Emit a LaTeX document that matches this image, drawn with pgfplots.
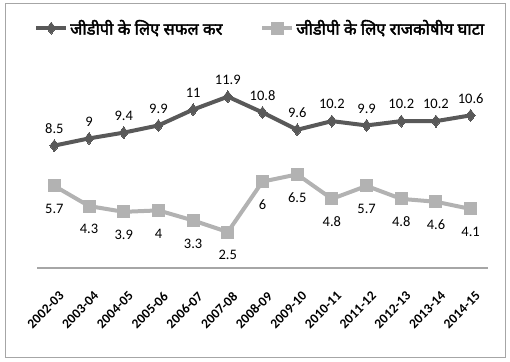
\documentclass[border=0pt]{standalone}
\usepackage{fontspec}
\setmainfont{Carlito}
\newfontfamily\hindi[Script=Devanagari, FakeBold=2.5]{Noto Sans}
\usepackage{pgfplots}
\pgfplotsset{compat=1.18}
\definecolor{darkser}{HTML}{595959}
\definecolor{lightser}{HTML}{B2B2B2}
\definecolor{axgray}{HTML}{A6A6A6}
\pgfplotsset{mylegimg/.style={legend image code/.code={\draw[##1, mark repeat=2, mark phase=2] plot coordinates {(0pt,0pt) (15pt,0pt) (30pt,0pt)};}}}
\begin{document}
\begin{tikzpicture}
\path (0,0) rectangle (510pt,361pt);
\draw[axgray, line width=1pt] (5pt,4pt) rectangle (505pt,357pt);
\begin{axis}[
  at={(37pt,93pt)}, anchor=south west,
  scale only axis, width=451pt, height=201.6pt,
  xmin=-0.5, xmax=12.5, ymin=0, ymax=14,
  axis x line=bottom, axis y line=none,
  axis line style={draw=axgray, line width=2pt, -},
  xtick={0,...,12},
  xticklabels={2002-03,2003-04,2004-05,2005-06,2006-07,2007-08,2008-09,2009-10,2010-11,2011-12,2012-13,2013-14,2014-15},
  xtick style={draw=none},
  xticklabel style={xshift=4pt, yshift=-19pt, rotate=45, anchor=north east, inner sep=1pt, font=\bfseries\fontsize{13.5}{13.5}\selectfont},
  clip=false,
  point meta=explicit symbolic,
  mylegimg,
  legend columns=2,
  legend style={draw=none, fill=none, at={(axis description cs:0.495,1.19)}, anchor=center,
    font=\hindi\fontsize{16.5}{16.5}\selectfont,
    /tikz/every even column/.append style={column sep=36pt}},
  legend cell align=left,
]
\addplot[darkser, line width=4pt, mark=diamond*, mark size=6pt, mark options={solid, line width=0pt, fill=darkser},
  nodes near coords, every node near coord/.append style={anchor=center, yshift=17pt, text=black, font=\fontsize{14.5}{14.5}\selectfont}]
coordinates {(0,8.5)[8.5] (1,9)[9] (2,9.4)[9.4] (3,9.9)[9.9] (4,11)[11] (5,11.9)[11.9] (6,10.8)[10.8] (7,9.6)[9.6] (8,10.2)[10.2] (9,9.9)[9.9] (10,10.2)[10.2] (11,10.2)[10.2] (12,10.6)[10.6]};
\addlegendentry{जीडीपी के लिए सफल कर}
\addplot[lightser, line width=4pt, mark=square*, mark size=6pt, mark options={solid, line width=0pt, fill=lightser},
  nodes near coords, every node near coord/.append style={anchor=center, yshift=-23pt, text=black, font=\fontsize{14.5}{14.5}\selectfont}]
coordinates {(0,5.7)[5.7] (1,4.3)[4.3] (2,3.9)[3.9] (3,4)[4] (4,3.3)[3.3] (5,2.5)[2.5] (6,6)[6] (7,6.5)[6.5] (8,4.8)[4.8] (9,5.7)[5.7] (10,4.8)[4.8] (11,4.6)[4.6] (12,4.1)[4.1]};
\addlegendentry{जीडीपी के लिए राजकोषीय घाटा}
\end{axis}
\end{tikzpicture}
\end{document}
